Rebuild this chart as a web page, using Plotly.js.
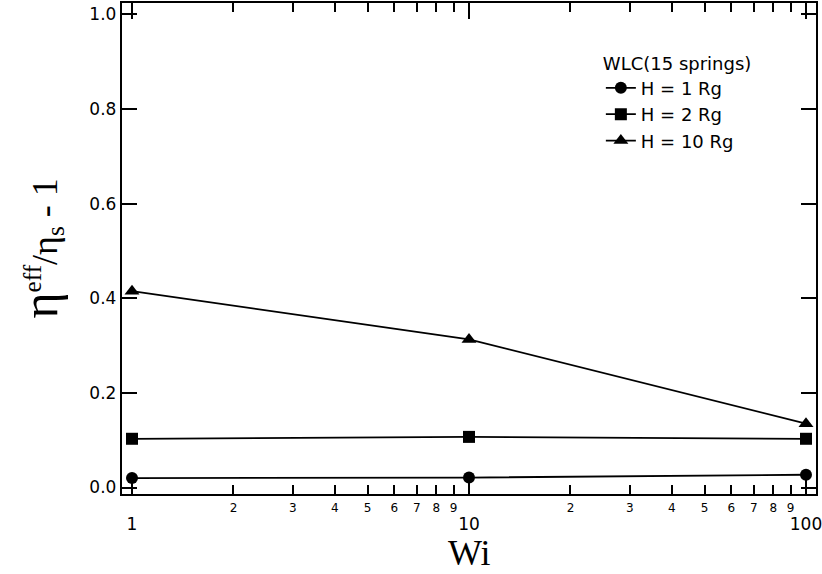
<!DOCTYPE html>
<html><head><meta charset="utf-8">
<script src="https://cdn.plot.ly/plotly-3.0.1.min.js"></script>
<style>html,body{margin:0;padding:0;background:#fff}</style>
</head><body><div id="chart" style="width:822px;height:574px"></div>
<script>
const wi = [1, 10, 100];
const h1 = [0.020, 0.021, 0.027];
const h2 = [0.103, 0.107, 0.103];
const h10 = [0.415, 0.313, 0.135];
const seriesNames = ['H = 1 Rg', 'H = 2 Rg', 'H = 10 Rg'];
const legendTitle = 'WLC(15 springs)';
const minorVals = [2,3,4,5,6,7,8,9,20,30,40,50,60,70,80,90];
const minorText = ['2','3','4','5','6','7','8','9','2','3','4','5','6','7','8','9'];
const majorVals = [1, 10, 100];
const majorText = ['1', '10', '100'];
const yVals = [0, 0.2, 0.4, 0.6, 0.8, 1.0];
const yText = ['0.0', '0.2', '0.4', '0.6', '0.8', '1.0'];

const xr = [-0.0297, 2.0297];
const yr = [-0.0137, 1.024];
function tr(y, name, sym) {
  return {x: wi, y: y, name: name, type: 'scatter', mode: 'lines+markers',
    line: {color: '#000', width: 1.8},
    marker: {symbol: sym, size: sym === 'triangle-up' ? 13 : 12, color: '#000'}};
}
const data = [tr(h1, seriesNames[0], 'circle'), tr(h2, seriesNames[1], 'square'), tr(h10, seriesNames[2], 'triangle-up'),
  {x: [1], y: [null], xaxis: 'x2', showlegend: false, hoverinfo: 'skip', type: 'scatter', mode: 'markers'}];
const font = 'DejaVu Sans, Verdana, sans-serif';
const serif = 'Liberation Serif, Times New Roman, serif';
const layout = {
  width: 822, height: 574,
  margin: {l: 122, r: 6, t: 3, b: 80},
  paper_bgcolor: '#fff', plot_bgcolor: '#fff',
  font: {family: font, color: '#000'},
  showlegend: true,
  legend: {x: 0.69, y: 0.912, xanchor: 'left', yanchor: 'top', bgcolor: 'rgba(0,0,0,0)',
    font: {size: 18, family: font}, tracegroupgap: 0, itemwidth: 30,
    title: {text: legendTitle, font: {size: 18, family: font}}},
  xaxis: {type: 'log', range: xr, tickmode: 'array', tickvals: minorVals, ticktext: minorText,
    ticks: 'inside', ticklen: 9, tickwidth: 2, tickcolor: '#000',
    showline: true, linecolor: '#000', linewidth: 2.2, mirror: 'ticks',
    showgrid: false, zeroline: false, tickfont: {size: 12, family: font}, ticklabelstandoff: 1},
  xaxis2: {type: 'log', range: xr, overlaying: 'x', side: 'bottom', tickmode: 'array',
    tickvals: majorVals, ticktext: majorText, ticks: 'inside', ticklen: 16, tickwidth: 2, tickcolor: '#000',
    showline: false, mirror: 'ticks', showgrid: false, zeroline: false, ticklabeloverflow: 'allow',
    tickfont: {size: 17, family: font}, ticklabelstandoff: 18},
  yaxis: {range: yr, tickmode: 'array', tickvals: yVals, ticktext: yText,
    ticks: 'inside', ticklen: 15, tickwidth: 2, tickcolor: '#000',
    showline: true, linecolor: '#000', linewidth: 2.2, mirror: 'ticks',
    showgrid: false, zeroline: false, tickfont: {size: 17, family: font}, ticklabelstandoff: 0},
  annotations: [
    {text: '<span style="font-size:50px">η</span><sup>eff</sup>/η<sub>s</sub> - 1', xref: 'paper', yref: 'paper', textangle: -90,
     x: -0.118, y: 0.5, xanchor: 'center', yanchor: 'middle', showarrow: false,
     font: {family: serif, size: 36}},
    {text: 'Wi', xref: 'paper', yref: 'paper', x: 0.5, y: -0.12, xanchor: 'center', yanchor: 'middle',
     showarrow: false, font: {family: serif, size: 36}}
  ]
};
Plotly.newPlot('chart', data, layout, {displayModeBar: false, staticPlot: true});
</script></body></html>
